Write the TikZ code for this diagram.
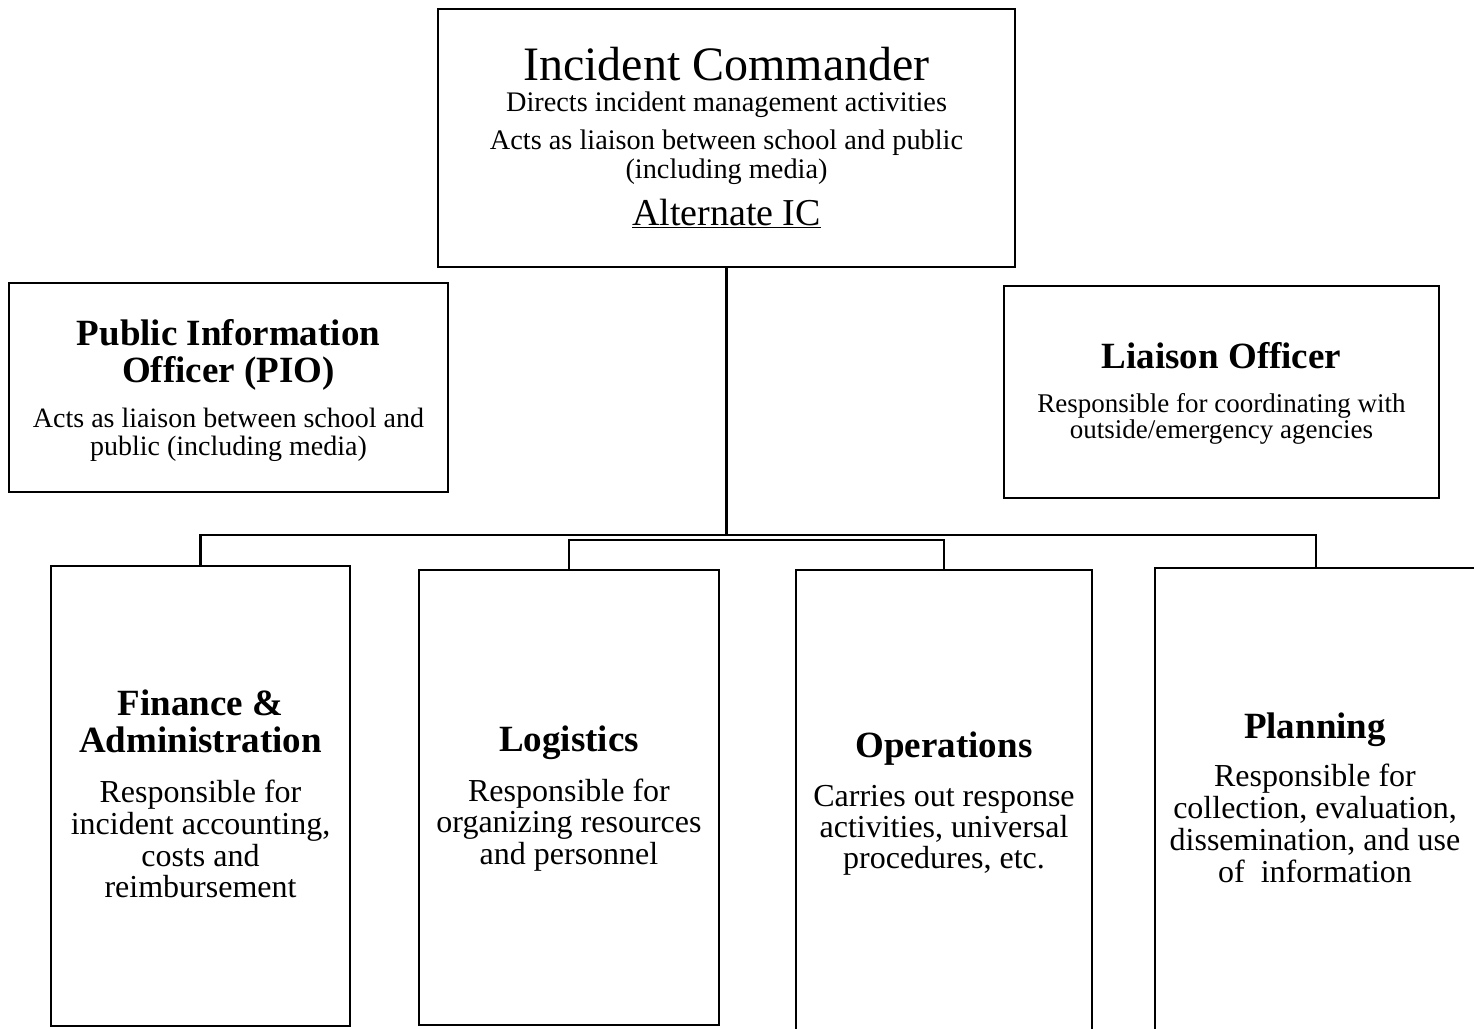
\documentclass[tikz,border=0pt]{standalone}
\usepackage{fontspec}
\setmainfont{Liberation Serif}
\tikzset{
  box/.style={draw, line width=2.5pt, inner sep=0pt, outer sep=0pt},
  conn/.style={line width=2.5pt},
  txt/.style={anchor=base, inner sep=0pt, outer sep=0pt},
  ictitle/.style={txt, font=\fontsize{48}{52}\selectfont},
  icbody/.style={txt, font=\fontsize{28.3}{30}\selectfont},
  icalt/.style={txt, font=\fontsize{38}{40}\selectfont},
  head/.style={txt, font=\fontsize{37}{40}\selectfont\bfseries},
  pbody/.style={txt, font=\fontsize{28}{30}\selectfont},
  lbody/.style={txt, font=\fontsize{27}{29}\selectfont},
  bbody/.style={txt, font=\fontsize{32}{34}\selectfont}
}
\begin{document}
\begin{tikzpicture}[x=1pt,y=-1pt]
\clip (0,0) rectangle (1474,1028);
\fill[white] (0,0) rectangle (1474,1028);
% boxes
\node[box, minimum width=577pt, minimum height=258pt] (ic) at (726.5,138) {};
\node[box, minimum width=439pt, minimum height=209pt] (pio) at (228.5,387.5) {};
\node[box, minimum width=435pt, minimum height=212pt] (lia) at (1221.5,392) {};
\node[box, minimum width=299pt, minimum height=460pt] (fin) at (200.5,796) {};
\node[box, minimum width=300pt, minimum height=455pt] (log) at (569,797.5) {};
\node[box, minimum width=296pt, minimum height=480pt] (ops) at (944,810) {};
\node[box, minimum width=322pt, minimum height=482pt] (pla) at (1316,809) {};
% connectors
\coordinate (bus) at (726.5,535);
\coordinate (bus2) at (726.5,540);
\draw[conn] (ic.south) -- (bus);
\draw[conn] (bus) -| (fin.north);
\draw[conn] (bus) -| (pla.north);
\draw[conn] (log.north) |- (bus2) -| (ops.north);
% IC text
\node[ictitle] (ict) at (726.5,80) {Incident Commander};
\node[icbody] (icb1) at (726.5,111) {Directs incident management activities};
\node[icbody] (icb2) at (726.5,149) {Acts as liaison between school and public};
\node[icbody] (icb3) at (726.5,178) {(including media)};
\node[icalt] (ica) at (726.5,225) {\underline{Alternate IC}};
% PIO text
\node[head] (piot1) at (228.5,345) {Public Information};
\node[head] (piot2) at (228.5,382) {Officer (PIO)};
\node[pbody] (piob1) at (228.5,427) {Acts as liaison between school and};
\node[pbody] (piob2) at (228.5,455) {public (including media)};
% Liaison text
\node[head] (liat) at (1221.5,368) {Liaison Officer};
\node[lbody] (liab1) at (1221.5,412) {Responsible for coordinating with};
\node[lbody] (liab2) at (1221.5,438) {outside/emergency agencies};
% Finance
\node[head] (fint1) at (200.5,715) {Finance \&};
\node[head] (fint2) at (200.5,752) {Administration};
\node[bbody] (finb1) at (200.5,802) {Responsible for};
\node[bbody] (finb2) at (200.5,834) {incident accounting,};
\node[bbody] (finb3) at (200.5,866) {costs and};
\node[bbody] (finb4) at (200.5,897) {reimbursement};
% Logistics
\node[head] (logt) at (569,751) {Logistics};
\node[bbody] (logb1) at (569,801) {Responsible for};
\node[bbody] (logb2) at (569,832) {organizing resources};
\node[bbody] (logb3) at (569,864) {and personnel};
% Operations
\node[head] (opst) at (944,757) {Operations};
\node[bbody] (opsb1) at (944,806) {Carries out response};
\node[bbody] (opsb2) at (944,837) {activities, universal};
\node[bbody] (opsb3) at (944,868) {procedures, etc.};
% Planning
\node[head] (plat) at (1315,738) {Planning};
\node[bbody] (plab1) at (1315,786) {Responsible for};
\node[bbody] (plab2) at (1315,818) {collection, evaluation,};
\node[bbody] (plab3) at (1315,850) {dissemination, and use};
\node[bbody] (plab4) at (1315,882) {of\ \ information};
\end{tikzpicture}
\end{document}
